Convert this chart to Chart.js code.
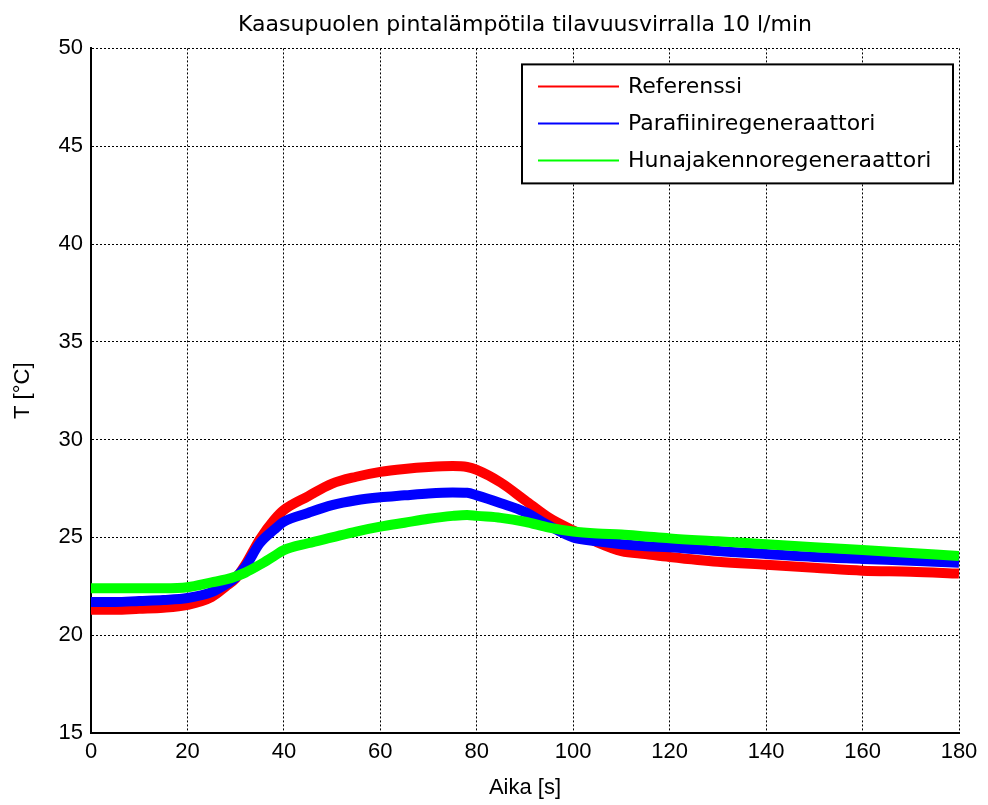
<!DOCTYPE html>
<html>
<head>
<meta charset="utf-8">
<script src="https://cdn.jsdelivr.net/npm/chart.js@4"></script>
<style>
  html, body { margin: 0; padding: 0; background: #fff; }
  #wrap { width: 988px; height: 805px; }
</style>
</head>
<body>
<div id="wrap"><canvas id="chart" width="988" height="805"></canvas></div>
<script>
// Time axis (s) and the three measured surface temperatures (°C)
const aika = [0, 5, 10, 15, 20, 25, 28, 30, 32, 35, 38, 40, 45, 50, 55, 60, 65, 70, 75, 78, 80, 85, 90, 95, 100, 105, 110, 115, 120, 130, 140, 150, 160, 170, 180];
const referenssi = [21.3, 21.3, 21.35, 21.4, 21.55, 21.95, 22.5, 22.9, 23.6, 24.9, 25.9, 26.4, 27.1, 27.75, 28.1, 28.35, 28.5, 28.6, 28.65, 28.6, 28.45, 27.8, 26.9, 26.0, 25.35, 24.75, 24.3, 24.15, 24.0, 23.75, 23.6, 23.45, 23.3, 23.25, 23.15];
const parafiini = [21.7, 21.7, 21.75, 21.8, 21.9, 22.2, 22.6, 22.95, 23.5, 24.7, 25.4, 25.8, 26.25, 26.65, 26.9, 27.05, 27.15, 27.25, 27.3, 27.28, 27.15, 26.75, 26.3, 25.6, 25.0, 24.8, 24.65, 24.55, 24.5, 24.3, 24.15, 24.0, 23.9, 23.8, 23.7];
const hunajakenno = [22.4, 22.4, 22.4, 22.4, 22.45, 22.7, 22.85, 23.0, 23.2, 23.6, 24.05, 24.35, 24.7, 25.0, 25.3, 25.55, 25.75, 25.95, 26.1, 26.15, 26.1, 26.0, 25.8, 25.5, 25.3, 25.2, 25.15, 25.05, 24.95, 24.8, 24.65, 24.5, 24.35, 24.2, 24.05];
const sarjat = ['Referenssi', 'Parafiiniregeneraattori', 'Hunajakennoregeneraattori'];
const varit = ['#ff0000', '#0000ff', '#00ff00'];
const xTicks = [0, 20, 40, 60, 80, 100, 120, 140, 160, 180];
const yTicks = [15, 20, 25, 30, 35, 40, 45, 50];

const FONT = 'Liberation Sans, Arial, Helvetica, sans-serif';
const WIDE = 'DejaVu Sans, sans-serif';

function points(ys) {
    return aika.map((t, i) => ({ x: t, y: ys[i] }));
}

// legend box drawn inside the plot, top right, like the original figure
const boxLegend = {
    id: 'boxLegend',
    afterDraw(chart) {
        const ctx = chart.ctx;
        const area = chart.chartArea;
        const w = 431, h = 119;
        const x0 = area.right - 6 - w;
        const y0 = area.top + 16;
        ctx.save();
        ctx.fillStyle = '#fff';
        ctx.fillRect(x0, y0, w, h);
        ctx.strokeStyle = '#000';
        ctx.lineWidth = 2;
        ctx.strokeRect(x0, y0, w, h);
        ctx.font = '22px ' + WIDE;
        ctx.textBaseline = 'middle';
        sarjat.forEach((name, i) => {
            const y = y0 + 22 + i * 37;
            ctx.strokeStyle = varit[i];
            ctx.lineWidth = 2;
            ctx.beginPath();
            ctx.moveTo(x0 + 16, y);
            ctx.lineTo(x0 + 97, y);
            ctx.stroke();
            ctx.fillStyle = '#000';
            ctx.fillText(name, x0 + 106, y + 1);
        });
        ctx.restore();
    }
};

const datasets = sarjat.map((name, i) => ({
    label: name,
    data: points([referenssi, parafiini, hunajakenno][i]),
    borderColor: varit[i],
    backgroundColor: varit[i],
    borderWidth: 10,
    pointRadius: 0,
    cubicInterpolationMode: 'monotone',
    order: 2 - i
}));

new Chart(document.getElementById('chart'), {
    type: 'line',
    data: { datasets: datasets },
    options: {
        responsive: false,
        animation: false,
        layout: { padding: { left: 0, right: 29, top: 0, bottom: 0 } },
        plugins: {
            legend: { display: false },
            tooltip: { enabled: false },
            title: {
                display: true,
                fullSize: false,
                text: 'Kaasupuolen pintalämpötila tilavuusvirralla 10 l/min',
                color: '#000',
                font: { family: WIDE, size: 22, weight: 'normal' },
                padding: { top: 12, bottom: 10 }
            }
        },
        scales: {
            x: {
                type: 'linear',
                min: 0,
                max: 180,
                afterBuildTicks: s => { s.ticks = xTicks.map(v => ({ value: v })); },
                afterFit: s => { s.height = 72; },
                ticks: { color: '#000', font: { family: FONT, size: 22 }, padding: 6, maxRotation: 0 },
                grid: { color: '#000', lineWidth: 1, drawTicks: false },
                border: { display: true, color: '#000', width: 2, dash: [2, 2] },
                title: {
                    display: true,
                    text: 'Aika [s]',
                    color: '#000',
                    font: { family: FONT, size: 22 },
                    padding: { top: 4, bottom: 4 }
                }
            },
            y: {
                min: 15,
                max: 50,
                afterBuildTicks: s => { s.ticks = yTicks.map(v => ({ value: v })); },
                afterFit: s => { s.width = 91; },
                ticks: { color: '#000', font: { family: FONT, size: 22 }, padding: 8 },
                grid: { color: '#000', lineWidth: 1, drawTicks: false },
                border: { display: true, color: '#000', width: 2, dash: [2, 2] },
                title: {
                    display: true,
                    text: 'T [°C]',
                    color: '#000',
                    font: { family: FONT, size: 22 },
                    padding: { top: 10, bottom: 0 }
                }
            }
        }
    },
    plugins: [boxLegend]
});
</script>
</body>
</html>
